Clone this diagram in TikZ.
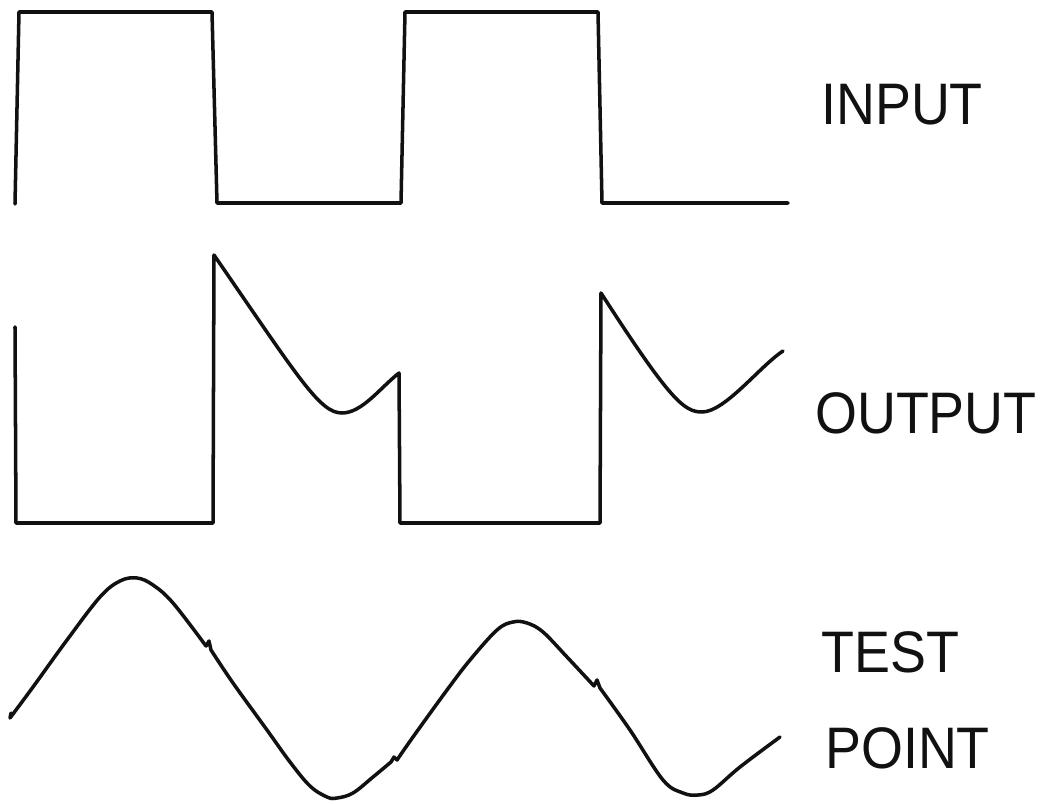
\documentclass[tikz,border=0pt]{standalone}
\usepackage{fontspec}
\setmainfont{Liberation Sans}
\usepackage{tikz}
\usetikzlibrary{positioning}
\definecolor{wvInk}{HTML}{111111}
\tikzset{
  wave/.style={draw=wvInk, line width=3pt, line join=round, line cap=round},
  siglabel/.style={font=\fontsize{50}{60}\selectfont, text=wvInk, inner sep=0pt,
    anchor=base west, xscale=0.92}
}
\begin{document}
\begin{tikzpicture}[x=0.3mm, y=-0.3mm]
  \useasboundingbox (0,0) rectangle (1052,804);
  % input
  \draw[wave] (15,204) -- (19,12) -- (212,12) -- (217,203) -- (401,203)
    -- (405,12) -- (598,12) -- (602,203) -- (788,203);
  \node[siglabel] (lin) at (821,125) {INPUT};
  % output
  \draw[wave] (15,327) -- (16,523) -- (213,523) -- (214,255)
    .. controls (300,380) and (320,413) .. (342,413)
    .. controls (362,413) and (380,388) .. (399,373)
    -- (400,523) -- (600,523) -- (601,293)
    .. controls (670,400) and (684,412) .. (702,412)
    .. controls (725,412) and (760,366) .. (783,351);
  \node[siglabel] (lout) at (815,433) {OUTPUT};
  % test point
  \draw[wave] (11,713) -- (10,718)
    -- plot[smooth, tension=0.6] coordinates {(10,718) (33,687) (67,640) (100,597)
      (120,581) (137,578) (153,585) (173,603) (206,646)}
    -- (209,641) -- (211,650)
    -- plot[smooth, tension=0.6] coordinates {(211,650) (233,683) (267,730) (290,762)
      (310,786) (327,797) (337,798) (353,793) (373,777) (391,762)}
    -- (394,757) -- (397,760)
    -- plot[smooth, tension=0.6] coordinates {(397,760) (413,737) (447,690) (470,660)
      (497,630) (513,622) (527,623) (543,632) (567,657) (594,686)}
    -- (597,680) -- (600,688)
    -- plot[smooth, tension=0.6] coordinates {(600,688) (630,730) (663,780) (683,793)
      (698,795) (713,790) (740,767) (780,737)};
  \node[siglabel] (ltest) at (821,672) {TEST};
  \node[siglabel] (lpoint) at (825,768) {POINT};
\end{tikzpicture}
\end{document}
